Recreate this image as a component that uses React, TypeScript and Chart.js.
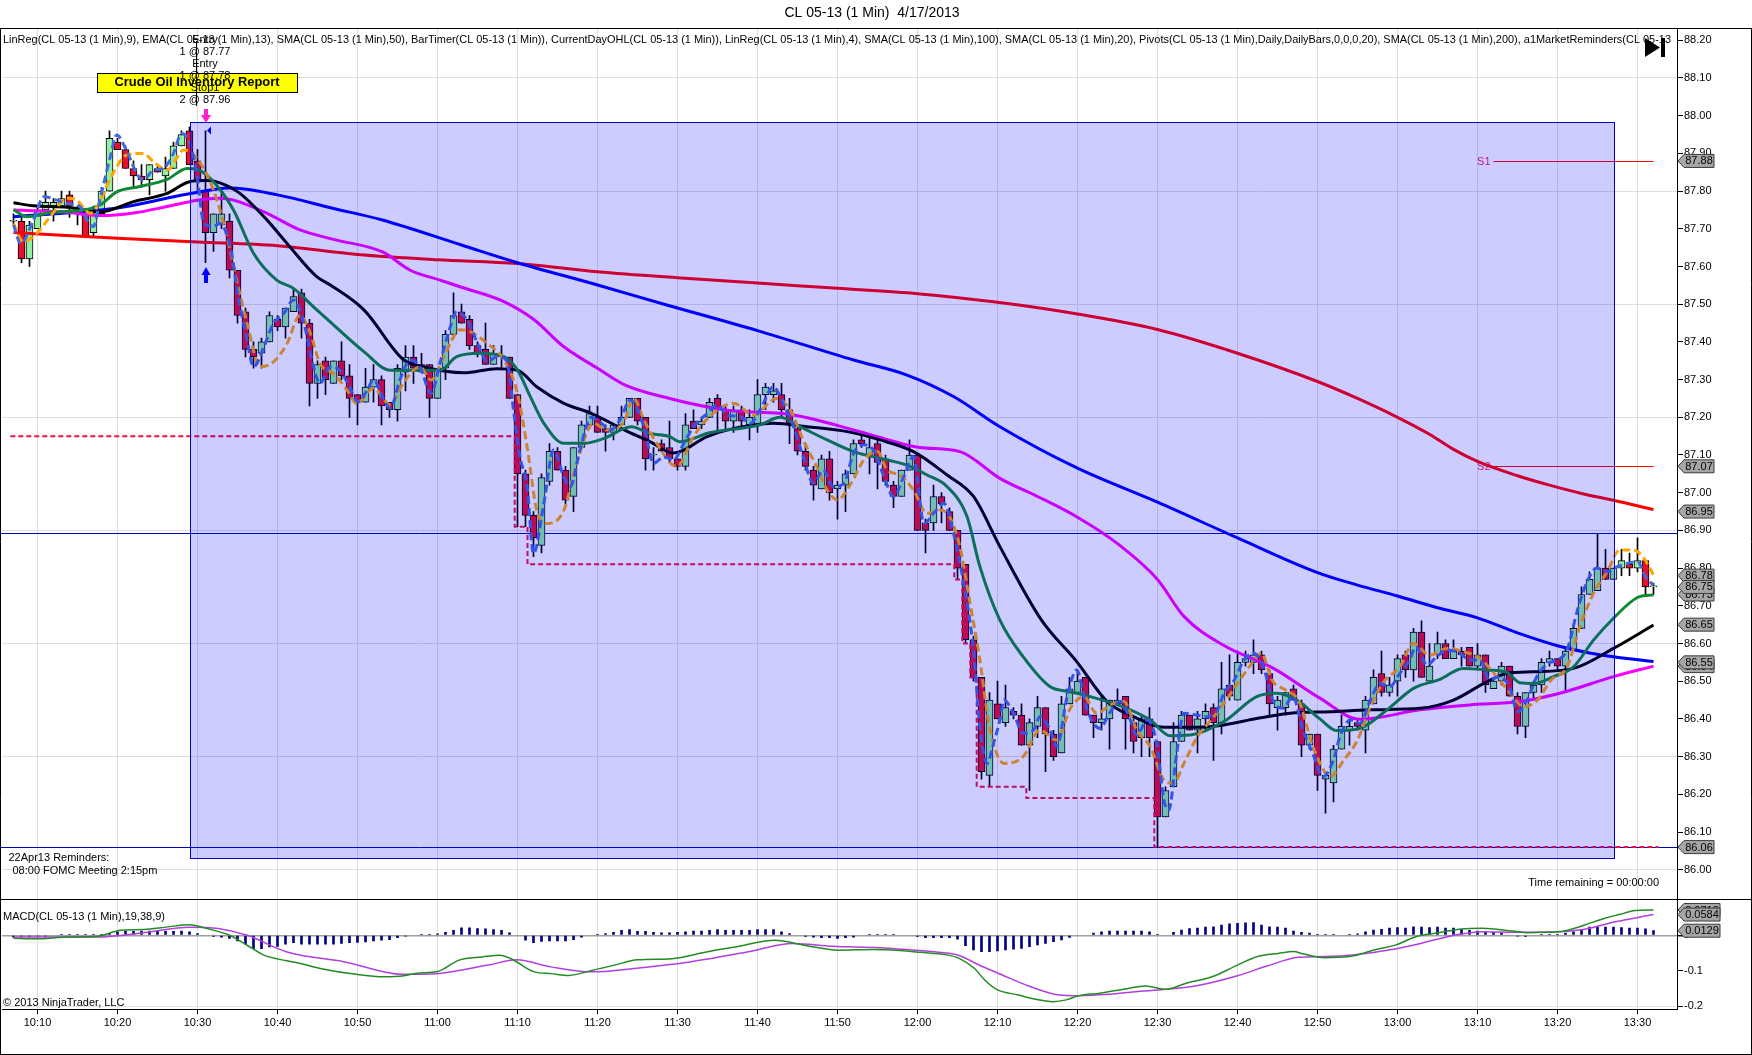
import React, { useEffect, useRef } from "react";
import { Chart, registerables } from "chart.js";

Chart.register(...registerables);

const W = 1752;
const H = 1055;
const FONT = '"Liberation Sans", Arial, sans-serif';

const TITLE = "CL 05-13 (1 Min)  4/17/2013";
const INDICATOR_LEGEND =
  "LinReg(CL 05-13 (1 Min),9), EMA(CL 05-13 (1 Min),13), SMA(CL 05-13 (1 Min),50), BarTimer(CL 05-13 (1 Min)), CurrentDayOHL(CL 05-13 (1 Min)), LinReg(CL 05-13 (1 Min),4), SMA(CL 05-13 (1 Min),100), SMA(CL 05-13 (1 Min),20), Pivots(CL 05-13 (1 Min),Daily,DailyBars,0,0,0,20), SMA(CL 05-13 (1 Min),200), a1MarketReminders(CL 05-13";
const MACD_LABEL = "MACD(CL 05-13 (1 Min),19,38,9)";
const COPYRIGHT = "\u00a9 2013 NinjaTrader, LLC";
const REMINDER_TITLE = "22Apr13 Reminders:";
const REMINDER_ITEM = "08:00 FOMC Meeting 2:15pm";
const TIME_REMAINING = "Time remaining = 00:00:00";
const TRADE_TEXT = ["Entry", "1 @ 87.77", "Entry", "1 @ 87.78", "Stop1", "2 @ 87.96"];
const EVENT_LABEL = "Crude Oil Inventory Report";

// x axis: minutes after 10:00
const FIRST_BAR_MINUTE = 7;
const timeTickMinutes = [10, 20, 30, 40, 50, 60, 70, 80, 90, 100, 110, 120, 130, 140, 150, 160, 170, 180, 190, 200, 210];
const timeTickLabels = ["10:10", "10:20", "10:30", "10:40", "10:50", "11:00", "11:10", "11:20", "11:30", "11:40", "11:50", "12:00", "12:10", "12:20", "12:30", "12:40", "12:50", "13:00", "13:10", "13:20", "13:30"];
const priceTicks = [86.0, 86.1, 86.2, 86.3, 86.4, 86.5, 86.6, 86.7, 86.8, 86.9, 87.0, 87.1, 87.2, 87.3, 87.4, 87.5, 87.6, 87.7, 87.8, 87.9, 88.0, 88.1, 88.2];
const macdTicks = [-0.2, -0.1, 0];

// 1-minute bars 10:07 .. 13:32
const opens = [
  87.72, 87.72, 87.62, 87.70, 87.75, 87.76, 87.76, 87.79, 87.75, 87.74,
  87.69, 87.74, 87.80, 87.93, 87.91, 87.86, 87.84, 87.83, 87.86, 87.84,
  87.86, 87.92, 87.96, 87.88, 87.80, 87.69, 87.71, 87.72, 87.59, 87.48,
  87.38, 87.37, 87.40, 87.46, 87.44, 87.48, 87.53, 87.45, 87.29, 87.35,
  87.29, 87.35, 87.31, 87.26, 87.24, 87.28, 87.30, 87.24, 87.22, 87.32,
  87.36, 87.32, 87.34, 87.25, 87.33, 87.42, 87.48, 87.46, 87.39, 87.38,
  87.34, 87.36, 87.36, 87.26, 87.05, 86.94, 86.86, 87.03, 87.11, 87.06,
  86.99, 87.12, 87.18, 87.20, 87.17, 87.16, 87.18, 87.20, 87.25, 87.20,
  87.10, 87.13, 87.12, 87.09, 87.07, 87.19, 87.18, 87.20, 87.25, 87.22,
  87.19, 87.22, 87.18, 87.18, 87.26, 87.26, 87.26, 87.22, 87.17, 87.11,
  87.06, 87.01, 87.09, 87.01, 87.02, 87.05, 87.14, 87.10, 87.13, 87.09,
  87.02, 86.99, 87.06, 87.10, 86.92, 86.92, 86.99, 86.95, 86.90, 86.81,
  86.61, 86.51, 86.25, 86.44, 86.39, 86.42, 86.41, 86.33, 86.38, 86.43,
  86.36, 86.31, 86.44, 86.47, 86.51, 86.41, 86.39, 86.40, 86.44, 86.46,
  86.39, 86.35, 86.40, 86.34, 86.14, 86.22, 86.34, 86.41, 86.37, 86.40,
  86.43, 86.39, 86.49, 86.45, 86.55, 86.55, 86.57, 86.52, 86.43, 86.43,
  86.48, 86.44, 86.33, 86.36, 86.24, 86.23, 86.32, 86.37, 86.39, 86.37,
  86.44, 86.52, 86.47, 86.50, 86.57, 86.53, 86.63, 86.50, 86.57, 86.60,
  86.56, 86.58, 86.59, 86.54, 86.57, 86.48, 86.50, 86.54, 86.46, 86.38,
  86.47, 86.49, 86.55, 86.56, 86.54, 86.58, 86.64, 86.73, 86.74, 86.80,
  86.77, 86.80, 86.81, 86.80, 86.82, 86.75,
];
const highs = [
  87.74, 87.73, 87.72, 87.76, 87.80, 87.78, 87.80, 87.80, 87.76, 87.75,
  87.76, 87.81, 87.96, 87.94, 87.92, 87.88, 87.87, 87.87, 87.87, 87.89,
  87.93, 87.96, 87.97, 87.91, 87.96, 87.74, 87.81, 87.74, 87.59, 87.49,
  87.40, 87.41, 87.48, 87.47, 87.49, 87.54, 87.54, 87.46, 87.35, 87.36,
  87.35, 87.40, 87.34, 87.26, 87.33, 87.34, 87.31, 87.24, 87.34, 87.39,
  87.39, 87.37, 87.34, 87.33, 87.43, 87.53, 87.50, 87.47, 87.40, 87.45,
  87.39, 87.39, 87.36, 87.26, 87.06, 86.95, 87.05, 87.13, 87.12, 87.07,
  87.12, 87.19, 87.23, 87.23, 87.18, 87.18, 87.23, 87.25, 87.25, 87.20,
  87.12, 87.14, 87.19, 87.09, 87.21, 87.22, 87.20, 87.25, 87.26, 87.23,
  87.23, 87.23, 87.22, 87.30, 87.29, 87.29, 87.29, 87.25, 87.18, 87.13,
  87.07, 87.10, 87.11, 87.03, 87.06, 87.14, 87.15, 87.15, 87.14, 87.10,
  87.03, 87.06, 87.14, 87.10, 86.93, 87.02, 87.00, 86.96, 86.90, 86.81,
  86.62, 86.51, 86.47, 86.50, 86.49, 86.43, 86.44, 86.40, 86.46, 86.43,
  86.37, 86.46, 86.51, 86.53, 86.51, 86.41, 86.46, 86.45, 86.48, 86.46,
  86.40, 86.41, 86.43, 86.34, 86.22, 86.39, 86.42, 86.41, 86.42, 86.44,
  86.44, 86.55, 86.57, 86.58, 86.58, 86.61, 86.58, 86.53, 86.46, 86.47,
  86.49, 86.45, 86.36, 86.36, 86.26, 86.33, 86.41, 86.40, 86.40, 86.46,
  86.53, 86.58, 86.51, 86.57, 86.58, 86.64, 86.66, 86.60, 86.63, 86.61,
  86.61, 86.59, 86.59, 86.60, 86.57, 86.51, 86.55, 86.54, 86.47, 86.47,
  86.50, 86.56, 86.58, 86.56, 86.59, 86.65, 86.75, 86.79, 86.89, 86.85,
  86.80, 86.85, 86.84, 86.88, 86.82, 86.76,
];
const lows = [
  87.71, 87.61, 87.60, 87.70, 87.74, 87.72, 87.76, 87.73, 87.71, 87.68,
  87.68, 87.74, 87.80, 87.91, 87.86, 87.81, 87.81, 87.79, 87.85, 87.80,
  87.86, 87.92, 87.87, 87.80, 87.61, 87.64, 87.70, 87.57, 87.45, 87.36,
  87.33, 87.33, 87.40, 87.43, 87.41, 87.48, 87.41, 87.23, 87.25, 87.26,
  87.29, 87.30, 87.20, 87.18, 87.24, 87.24, 87.18, 87.20, 87.19, 87.27,
  87.29, 87.32, 87.20, 87.25, 87.30, 87.41, 87.45, 87.38, 87.36, 87.34,
  87.34, 87.33, 87.25, 86.91, 86.91, 86.83, 86.84, 87.02, 87.06, 86.97,
  86.95, 87.12, 87.17, 87.16, 87.11, 87.14, 87.18, 87.20, 87.18, 87.06,
  87.06, 87.11, 87.08, 87.06, 87.06, 87.17, 87.17, 87.20, 87.16, 87.17,
  87.16, 87.17, 87.14, 87.16, 87.22, 87.24, 87.20, 87.13, 87.10, 87.06,
  86.98, 87.01, 86.98, 86.93, 86.95, 87.05, 87.12, 87.05, 87.01, 87.02,
  86.96, 86.99, 87.06, 86.90, 86.84, 86.90, 86.92, 86.90, 86.77, 86.60,
  86.50, 86.24, 86.22, 86.40, 86.38, 86.40, 86.33, 86.21, 86.35, 86.26,
  86.29, 86.31, 86.44, 86.47, 86.41, 86.35, 86.37, 86.32, 86.44, 86.32,
  86.31, 86.30, 86.30, 86.06, 86.14, 86.22, 86.34, 86.37, 86.31, 86.37,
  86.29, 86.36, 86.45, 86.45, 86.54, 86.52, 86.52, 86.41, 86.37, 86.41,
  86.45, 86.30, 86.32, 86.21, 86.15, 86.18, 86.32, 86.33, 86.37, 86.31,
  86.44, 86.46, 86.46, 86.46, 86.51, 86.50, 86.51, 86.50, 86.56, 86.56,
  86.56, 86.54, 86.54, 86.53, 86.47, 86.48, 86.49, 86.46, 86.36, 86.35,
  86.45, 86.47, 86.54, 86.53, 86.47, 86.58, 86.64, 86.73, 86.74, 86.77,
  86.77, 86.78, 86.78, 86.79, 86.73, 86.73,
];
const closes = [
  87.72, 87.62, 87.71, 87.75, 87.77, 87.77, 87.78, 87.76, 87.74, 87.68,
  87.74, 87.80, 87.94, 87.91, 87.86, 87.84, 87.83, 87.87, 87.85, 87.86,
  87.92, 87.95, 87.87, 87.83, 87.69, 87.74, 87.74, 87.59, 87.47, 87.38,
  87.36, 87.40, 87.47, 87.44, 87.49, 87.52, 87.45, 87.29, 87.34, 87.30,
  87.35, 87.31, 87.25, 87.24, 87.28, 87.30, 87.23, 87.22, 87.33, 87.36,
  87.33, 87.34, 87.25, 87.33, 87.42, 87.47, 87.45, 87.39, 87.37, 87.34,
  87.37, 87.36, 87.25, 87.05, 86.94, 86.88, 87.04, 87.11, 87.06, 86.98,
  87.12, 87.18, 87.21, 87.16, 87.16, 87.18, 87.20, 87.25, 87.19, 87.09,
  87.10, 87.11, 87.09, 87.07, 87.18, 87.17, 87.19, 87.24, 87.22, 87.19,
  87.22, 87.19, 87.20, 87.26, 87.28, 87.27, 87.22, 87.18, 87.11, 87.07,
  87.02, 87.09, 87.00, 87.02, 87.05, 87.13, 87.13, 87.12, 87.08, 87.03,
  86.99, 87.06, 87.10, 86.90, 86.90, 86.99, 86.97, 86.90, 86.80, 86.61,
  86.51, 86.26, 86.45, 86.40, 86.43, 86.41, 86.33, 86.39, 86.43, 86.36,
  86.30, 86.44, 86.48, 86.50, 86.41, 86.39, 86.40, 86.45, 86.45, 86.40,
  86.34, 86.40, 86.35, 86.14, 86.21, 86.34, 86.41, 86.37, 86.40, 86.42,
  86.39, 86.48, 86.46, 86.55, 86.56, 86.57, 86.53, 86.44, 86.45, 86.47,
  86.45, 86.33, 86.36, 86.25, 86.25, 86.32, 86.38, 86.38, 86.38, 86.45,
  86.51, 86.47, 86.49, 86.56, 86.53, 86.63, 86.51, 86.54, 86.60, 86.56,
  86.58, 86.57, 86.54, 86.57, 86.49, 86.50, 86.54, 86.46, 86.38, 86.47,
  86.49, 86.55, 86.56, 86.54, 86.58, 86.64, 86.73, 86.77, 86.80, 86.77,
  86.80, 86.82, 86.80, 86.82, 86.75, 86.75,
];

// indicator lines: [minute, value]
const linReg4: number[][] = [
  [7, 87.71], [7.9, 87.661], [9.5, 87.723], [10.8, 87.785], [12.4, 87.776], [13.7, 87.767], [15.3, 87.759], [16.2, 87.723], [17, 87.706], [17.8, 87.776],
  [19.1, 87.891], [19.9, 87.949], [21.2, 87.904], [22.4, 87.847], [23.2, 87.829], [24.5, 87.856], [25.7, 87.86], [27, 87.9], [28, 87.953], [28.9, 87.935],
  [29.9, 87.847], [30.8, 87.714], [32, 87.706], [32.8, 87.714], [34.1, 87.652], [35.1, 87.52], [36.2, 87.405], [37, 87.334], [38.3, 87.387], [39.5, 87.449],
  [40.8, 87.476], [42, 87.511], [43.3, 87.449], [44.5, 87.334], [45.3, 87.29], [46.6, 87.334], [47.8, 87.325], [49, 87.281], [50.1, 87.241], [51.2, 87.272],
  [52, 87.299], [53.3, 87.246], [54.1, 87.224], [55.3, 87.299], [56.6, 87.352], [57.8, 87.334], [59.2, 87.263], [60.3, 87.343], [61.6, 87.44], [62.4, 87.48],
  [63.7, 87.458], [65, 87.396], [66.2, 87.348], [67.5, 87.361], [68.7, 87.348], [69.5, 87.219], [70.3, 87.096], [71.2, 87.016], [72, 86.839], [73.3, 86.972],
  [74.5, 87.113], [75.8, 87.042], [76.6, 87.016], [77.8, 87.113], [79.2, 87.2], [80.3, 87.188], [81.6, 87.166], [82.8, 87.193], [84.1, 87.246], [85.8, 87.175],
  [87, 87.078], [88.3, 87.095], [89.5, 87.087], [90.8, 87.131], [92, 87.175], [93.7, 87.21], [95, 87.232], [96.2, 87.206], [97.8, 87.202], [99.1, 87.184],
  [100.3, 87.219], [102, 87.281], [103.2, 87.237], [104.5, 87.175], [105.7, 87.096], [107, 87.025], [108.2, 87.06], [109.5, 87.016], [110.8, 87.025], [112, 87.104],
  [113.3, 87.127], [114.5, 87.113], [115.8, 87.043], [117, 86.99], [118.3, 87.043], [119.5, 87.096], [120.8, 86.919], [122, 86.945], [123.3, 86.972], [124.5, 86.892],
  [125.7, 86.768], [127, 86.583], [127.8, 86.379], [128.7, 86.282], [129.5, 86.335], [130.3, 86.397], [130.8, 86.45], [132, 86.415], [133.2, 86.362], [134.5, 86.37],
  [135.3, 86.406], [136.6, 86.37], [137.4, 86.326], [138.7, 86.459], [139.9, 86.53], [141.2, 86.424], [142.8, 86.375], [144, 86.415], [145.3, 86.446], [146.6, 86.397],
  [147.4, 86.357], [148.7, 86.397], [149.9, 86.335], [150.8, 86.185], [151.4, 86.158], [152.4, 86.309], [153.3, 86.415], [155, 86.41], [156.2, 86.406], [157.5, 86.424],
  [158.3, 86.468], [159.6, 86.503], [160.8, 86.556], [162, 86.574], [163.2, 86.539], [164.5, 86.446], [165.7, 86.428], [166.9, 86.459], [168.2, 86.37], [169.4, 86.309],
  [170.7, 86.247], [172, 86.291], [172.8, 86.353], [174.1, 86.397], [175.3, 86.388], [176.6, 86.45], [177.8, 86.494], [179, 86.485], [180.3, 86.521], [181.5, 86.556],
  [182.3, 86.591], [183.7, 86.543], [184.9, 86.565], [186.2, 86.583], [187.8, 86.574], [189, 86.556], [190.3, 86.556], [191.5, 86.503], [192.7, 86.512], [194, 86.485],
  [195, 86.419], [196.2, 86.45], [197.5, 86.516], [198.8, 86.547], [200, 86.556], [201.2, 86.583], [202.5, 86.689], [203.7, 86.764], [204.9, 86.8], [206.2, 86.79],
  [207.4, 86.803], [208.7, 86.812], [210, 86.817], [211, 86.777], [212, 86.755],
];
const linReg9: number[][] = [
  [7, 87.714], [8.2, 87.666], [9.9, 87.688], [11.6, 87.732], [13.7, 87.781], [14.9, 87.776], [16.6, 87.741], [17.8, 87.772], [19.1, 87.834], [21.2, 87.896],
  [23.2, 87.9], [24.5, 87.878], [26.2, 87.856], [28.3, 87.909], [29.9, 87.887], [32, 87.803], [33.7, 87.679], [34.9, 87.564], [36.2, 87.449], [37.8, 87.334],
  [39.5, 87.347], [41.2, 87.396], [42.8, 87.47], [44.1, 87.423], [45.3, 87.343], [47, 87.316], [48.7, 87.272], [49.9, 87.237], [52, 87.277], [54.1, 87.233],
  [55.7, 87.29], [57.8, 87.334], [59.2, 87.299], [60.8, 87.361], [62.8, 87.432], [64.1, 87.427], [66.2, 87.396], [68.3, 87.352], [70, 87.263], [71.2, 87.122],
  [72.4, 86.954], [73.7, 86.918], [75.8, 86.954], [77.4, 87.078], [79.5, 87.184], [81.2, 87.166], [83.3, 87.188], [84.5, 87.25], [85.8, 87.193], [87.4, 87.131],
  [89.9, 87.069], [92, 87.149], [94, 87.202], [97, 87.237], [99.5, 87.206], [102.4, 87.25], [104.1, 87.219], [105.7, 87.14], [107.4, 87.069], [108.7, 87.007],
  [110, 86.981], [111.7, 87.025], [113.3, 87.087], [115, 87.109], [116.2, 87.06], [117.8, 87.047], [119.5, 87.007], [121.2, 86.945], [122.8, 86.954], [124, 86.936],
  [125.3, 86.857], [126.5, 86.715], [127.8, 86.556], [129, 86.379], [130.8, 86.282], [133.2, 86.3], [135.3, 86.37], [137.4, 86.344], [139.1, 86.428], [140.8, 86.459],
  [142.4, 86.415], [144.1, 86.437], [145.8, 86.446], [147.4, 86.37], [149.1, 86.326], [150.8, 86.238], [152, 86.229], [153.3, 86.282], [155, 86.353], [156.7, 86.397],
  [158.3, 86.441], [160, 86.494], [161.8, 86.547], [163, 86.574], [164.3, 86.503], [166, 86.477], [167.7, 86.446], [169.3, 86.335], [171, 86.256], [171.6, 86.247],
  [173.3, 86.291], [175, 86.344], [176.6, 86.432], [178.3, 86.499], [180.3, 86.538], [182, 86.6], [184, 86.569], [186.2, 86.587], [188.3, 86.578], [190.3, 86.561],
  [192.4, 86.512], [194.1, 86.468], [195.8, 86.432], [197.5, 86.45], [199.2, 86.503], [201.2, 86.538], [202.8, 86.645], [204.5, 86.733], [206.2, 86.79], [207.8, 86.848],
  [209.5, 86.848], [210.8, 86.826], [212, 86.782],
];
const ema13: number[][] = [
  [7, 87.751], [8.7, 87.732], [11.6, 87.743], [15.8, 87.75], [17.8, 87.763], [19.9, 87.798], [22.8, 87.812], [26.2, 87.831], [28.7, 87.86], [29.9, 87.858],
  [32, 87.825], [34.5, 87.75], [37, 87.635], [39.9, 87.564], [42, 87.542], [44.5, 87.493], [47, 87.445], [50.8, 87.374], [54.1, 87.325], [58.2, 87.325],
  [60.3, 87.325], [62.4, 87.361], [65.3, 87.37], [68.3, 87.361], [70, 87.325], [71.6, 87.255], [73.3, 87.184], [75.8, 87.131], [78.3, 87.131], [80.8, 87.144],
  [84.2, 87.175], [86.6, 87.157], [89, 87.149], [90.3, 87.135], [94, 87.159], [100.3, 87.18], [102.8, 87.2], [105.3, 87.175], [108.7, 87.14], [112, 87.109],
  [116.2, 87.087], [118.7, 87.073], [121.2, 87.047], [123.7, 87.016], [126.2, 86.936], [127.8, 86.804], [130.3, 86.662], [133.2, 86.565], [136.6, 86.485], [139.1, 86.472],
  [141.6, 86.459], [145.7, 86.432], [149.1, 86.397], [151.6, 86.355], [154.1, 86.357], [158.3, 86.393], [162.4, 86.459], [164.9, 86.468], [167.4, 86.45], [170.3, 86.4],
  [172.4, 86.369], [175.3, 86.375], [178.7, 86.424], [182, 86.481], [185.3, 86.505], [188.2, 86.534], [191.2, 86.53], [193.7, 86.523], [195.3, 86.496], [197, 86.494],
  [199.5, 86.512], [202, 86.538], [204.5, 86.609], [207, 86.667], [210, 86.722], [212, 86.729],
];
const sma20: number[][] = [
  [7, 87.769], [9.5, 87.761], [13.7, 87.757], [17.8, 87.745], [22, 87.772], [26.2, 87.794], [29, 87.825], [31.2, 87.828], [32.8, 87.822], [35.3, 87.794],
  [38.7, 87.723], [41.2, 87.661], [44.9, 87.573], [46.6, 87.551], [50.8, 87.485], [55.8, 87.352], [58.2, 87.334], [63.3, 87.318], [67.4, 87.329], [70, 87.325],
  [72.4, 87.281], [75.8, 87.237], [79.3, 87.21], [83.4, 87.166], [86.6, 87.135], [89.5, 87.105], [93.7, 87.149], [96.2, 87.166], [102, 87.184], [106.2, 87.175],
  [111.2, 87.162], [115.3, 87.14], [119.5, 87.109], [123.7, 87.047], [127, 86.99], [130.3, 86.857], [135.5, 86.662], [139.9, 86.552], [143.7, 86.446], [147, 86.406],
  [150.8, 86.378], [155, 86.378], [158.3, 86.384], [162.4, 86.401], [166.6, 86.415], [171.6, 86.419], [176.6, 86.424], [182.8, 86.428], [187, 86.45], [191.2, 86.499],
  [193.7, 86.521], [197, 86.525], [202, 86.534], [207, 86.587], [212, 86.649],
];
const sma50: number[][] = [
  [7, 87.75], [9.5, 87.748], [13, 87.745], [17.8, 87.735], [22, 87.742], [26.2, 87.759], [30, 87.776], [32.8, 87.781], [34.5, 87.776], [38.7, 87.741],
  [42.8, 87.697], [47, 87.672], [53.2, 87.638], [56.6, 87.59], [60.3, 87.564], [63, 87.545], [68.3, 87.507], [72, 87.46], [75.8, 87.387], [80, 87.33],
  [83.4, 87.286], [89, 87.25], [96.2, 87.219], [104.5, 87.206], [112.8, 87.162], [120.3, 87.12], [125.3, 87.109], [130.3, 87.038], [135, 86.99], [140, 86.935],
  [145, 86.865], [150, 86.77], [153.3, 86.672], [158.2, 86.596], [164.5, 86.534], [170.3, 86.455], [175.3, 86.399], [182.8, 86.424], [189, 86.437], [195.3, 86.446],
  [200.3, 86.468], [207, 86.512], [212, 86.54],
];
const sma100: number[][] = [
  [7, 87.732], [20, 87.755], [29, 87.793], [34, 87.808], [40, 87.79], [47, 87.754], [53, 87.724], [63, 87.657], [70, 87.61], [80, 87.551],
  [88, 87.502], [100, 87.43], [112, 87.352], [118.7, 87.312], [124.5, 87.255], [130.3, 87.175], [140, 87.065], [150, 86.975], [160, 86.88], [170, 86.788],
  [175, 86.755], [180, 86.726], [185, 86.695], [190, 86.668], [195, 86.628], [200, 86.594], [204, 86.575], [207, 86.565], [212, 86.552],
];
const sma200: number[][] = [
  [7, 87.69], [20, 87.675], [30, 87.665], [40, 87.655], [50, 87.632], [60, 87.618], [70, 87.608], [80, 87.586], [90, 87.57], [100, 87.556],
  [110, 87.542], [120, 87.528], [130, 87.505], [140, 87.474], [150, 87.433], [160, 87.37], [170, 87.295], [175, 87.25], [180, 87.2], [184, 87.155],
  [187, 87.115], [190, 87.083], [195, 87.045], [199, 87.02], [203, 86.998], [207, 86.98], [212, 86.955],
];
// CurrentDayOHL low (stepped: each level holds until the next point)
const dayLow: number[][] = [
  [6.6, 87.15], [69.65, 86.91], [71.25, 86.81], [124.6, 86.77], [125.6, 86.6], [126.6, 86.51], [127.4, 86.22], [133.6, 86.19], [149.6, 86.06], [212.6, 86.06],
];

// MACD(19,38,9)
const macdLine: number[][] = [
  [7, -0.0085], [9.6, -0.01], [13.9, -0.005], [17.5, -0.003], [20.4, 0.014], [23.3, 0.016], [26.1, 0.023], [29, 0.03], [31.2, 0.019], [34, 0],
  [36.2, -0.028], [38.3, -0.056], [41.2, -0.072], [42.6, -0.078], [45.5, -0.094], [49.8, -0.11], [53.4, -0.117], [55.6, -0.115], [57.7, -0.106], [59.9, -0.103],
  [62.7, -0.07], [65.6, -0.061], [67.8, -0.056], [69.2, -0.066], [72.1, -0.103], [74.2, -0.108], [76.4, -0.113], [79.3, -0.099], [82.1, -0.084], [85, -0.069],
  [89.3, -0.066], [93.6, -0.047], [97.2, -0.033], [102.2, -0.014], [105.8, -0.028], [110.1, -0.042], [114.4, -0.04], [117.8, -0.043], [120.4, -0.048], [123.6, -0.055],
  [125.2, -0.065], [127.1, -0.093], [128.4, -0.126], [130, -0.154], [132.6, -0.168], [134.5, -0.179], [137, -0.187], [138.6, -0.182], [140.2, -0.17], [142.8, -0.163],
  [146, -0.151], [148.5, -0.143], [151.1, -0.152], [153.6, -0.135], [156.8, -0.117], [160, -0.084], [162.5, -0.06], [165.1, -0.051], [167, -0.046], [168.3, -0.053],
  [170.8, -0.063], [174, -0.06], [177.2, -0.041], [179.8, -0.027], [182.3, -0.004], [185.5, 0.0085], [188, 0.018], [190.6, 0.02], [194.4, 0.012], [196.3, 0.0075],
  [198.3, 0.0085], [200.8, 0.012], [203.4, 0.029], [205.9, 0.048], [207.8, 0.059], [209.7, 0.07], [212, 0.0713],
];
const macdSignal: number[][] = [
  [7, -0.005], [17.5, -0.005], [23.3, 0.007], [29, 0.023], [32.6, 0.019], [36.2, 0], [41.2, -0.047], [48.4, -0.075], [55.6, -0.11], [59.9, -0.108],
  [66.3, -0.084], [69.9, -0.069], [74.2, -0.089], [79.3, -0.103], [84.3, -0.094], [91.5, -0.075], [98.7, -0.047], [104.4, -0.023], [109.4, -0.031], [115.3, -0.035],
  [118, -0.039], [121.7, -0.046], [124.9, -0.055], [128.1, -0.088], [130.6, -0.112], [133.8, -0.142], [137.7, -0.168], [140.2, -0.17], [144, -0.166], [147.2, -0.159],
  [151.1, -0.152], [154.9, -0.142], [160, -0.114], [163.8, -0.086], [167.6, -0.062], [170.8, -0.06], [174.7, -0.055], [179.1, -0.041], [182.9, -0.023], [186.8, -0.001],
  [190.6, 0.0103], [195.1, 0.0085], [198.9, 0.0085], [203.4, 0.017], [207.2, 0.038], [212, 0.0584],
];
const macdHist = [
  -0.005, -0.003, -0.003, -0.002, -0.003, 0, 0.001, 0.002, 0.002, 0.001,
  0.001, 0.002, 0.005, 0.010, 0.011, 0.011, 0.012, 0.012, 0.011, 0.011,
  0.011, 0.012, 0.010, 0.005, 0, -0.003, -0.005, -0.009, -0.016, -0.025,
  -0.038, -0.038, -0.033, -0.031, -0.025, -0.021, -0.025, -0.025, -0.025, -0.025,
  -0.025, -0.023, -0.021, -0.020, -0.019, -0.016, -0.014, -0.012, -0.007, -0.002,
  0, 0.002, 0.002, 0.004, 0.008, 0.014, 0.021, 0.021, 0.019, 0.018,
  0.016, 0.014, 0.007, 0, -0.014, -0.021, -0.017, -0.016, -0.016, -0.016,
  -0.012, -0.005, 0, 0.003, 0.005, 0.008, 0.014, 0.016, 0.011, 0.011,
  0.008, 0.007, 0.007, 0.008, 0.010, 0.012, 0.012, 0.014, 0.016, 0.014,
  0.014, 0.014, 0.014, 0.016, 0.016, 0.016, 0.010, 0.005, 0, -0.003,
  -0.005, -0.007, -0.007, -0.009, -0.007, -0.005, 0, 0.001, 0.001, 0.001,
  0.001, 0, 0, -0.003, -0.007, -0.007, -0.007, -0.007, -0.011, -0.029,
  -0.041, -0.046, -0.046, -0.044, -0.041, -0.039, -0.037, -0.032, -0.027, -0.023,
  -0.018, -0.013, -0.006, 0, 0, 0.006, 0.010, 0.012, 0.012, 0.012,
  0.012, 0.012, 0.010, 0.003, 0, 0.008, 0.015, 0.019, 0.020, 0.023,
  0.024, 0.029, 0.032, 0.034, 0.035, 0.036, 0.029, 0.024, 0.023, 0.020,
  0.012, 0.008, 0.006, 0.002, 0.001, 0.001, 0, 0.002, 0.004, 0.010,
  0.015, 0.017, 0.020, 0.022, 0.020, 0.024, 0.023, 0.022, 0.023, 0.020,
  0.020, 0.017, 0.014, 0.012, 0.010, 0.008, 0.006, 0, -0.002, -0.003,
  0, 0.002, 0.002, 0.003, 0.006, 0.010, 0.017, 0.023, 0.024, 0.023,
  0.023, 0.022, 0.020, 0.020, 0.018, 0.013,
];

// drawing objects on the chart
const shadedZone = { fromMinute: 29.02, toMinute: 207.0, top: 87.982, bottom: 86.031 };
const userHLines = [86.892, 86.061];
const pivotLevels: [string, number][] = [["S1", 87.88], ["S2", 87.07]];
const pivotSpan = [192, 212];
const priceTags = [86.73, 86.78, 86.75, 87.88, 87.07, 86.95, 86.54, 86.55, 86.65, 86.06];
const macdTags = [0.0713, 0.0584, 0.0129];

const UP = "#92eea0";
const DOWN = "#e8102a";

const toXY = (a: number[][]) => a.map(([x, y]) => ({ x, y }));

function lineDs(data: number[][], color: string, width: number, dash: number[] = [], yAxisID = "y", stepped: any = false) {
  return {
    type: "line",
    data: toXY(data),
    borderColor: color,
    borderWidth: width,
    borderDash: dash,
    borderCapStyle: "butt",
    borderJoinStyle: "round",
    pointRadius: 0,
    fill: false,
    stepped,
    cubicInterpolationMode: stepped ? "default" : "monotone",
    yAxisID,
    xAxisID: "x",
  };
}

function drawTag(ctx: CanvasRenderingContext2D, axisX: number, py: number, text: string, w: number) {
  const h = 13;
  ctx.beginPath();
  ctx.moveTo(axisX + 1, py);
  ctx.lineTo(axisX + 7, py - h / 2);
  ctx.lineTo(axisX + 7 + w, py - h / 2);
  ctx.lineTo(axisX + 7 + w, py + h / 2);
  ctx.lineTo(axisX + 7, py + h / 2);
  ctx.closePath();
  ctx.fillStyle = "#a6a6a6";
  ctx.fill();
  ctx.strokeStyle = "#3a3a3a";
  ctx.lineWidth = 1;
  ctx.stroke();
  ctx.fillStyle = "#000";
  ctx.font = `11px ${FONT}`;
  ctx.textAlign = "center";
  ctx.textBaseline = "middle";
  ctx.fillText(text, axisX + 7 + w / 2, py + 0.5);
}

const ninjaPlugin = {
  id: "ninjaDecor",
  beforeDraw(chart: any) {
    const ctx = chart.ctx;
    ctx.save();
    ctx.fillStyle = "#fff";
    ctx.fillRect(0, 0, W, H);
    ctx.restore();
  },
  beforeDatasetsDraw(chart: any) {
    const { ctx, chartArea, scales } = chart;
    const y = scales.y;
    const x = scales.x;
    ctx.save();
    for (const [name, v] of pivotLevels) {
      const py = Math.round(y.getPixelForValue(v)) + 0.5;
      const x0 = x.getPixelForValue(pivotSpan[0]);
      const x1 = x.getPixelForValue(pivotSpan[1]);
      ctx.strokeStyle = "#ff0000";
      ctx.lineWidth = 1;
      ctx.beginPath();
      ctx.moveTo(x0, py);
      ctx.lineTo(x1, py);
      ctx.stroke();
      ctx.fillStyle = "#f0206a";
      ctx.font = `11px ${FONT}`;
      ctx.textAlign = "right";
      ctx.textBaseline = "middle";
      ctx.fillText(name, x0 - 3, py);
    }
    ctx.strokeStyle = "#0000c0";
    ctx.lineWidth = 1;
    for (const v of userHLines) {
      const py = Math.round(y.getPixelForValue(v)) + 0.5;
      ctx.beginPath();
      ctx.moveTo(0, py);
      ctx.lineTo(chartArea.right, py);
      ctx.stroke();
    }
    ctx.restore();
  },
  afterDatasetsDraw(chart: any) {
    const { ctx, scales } = chart;
    const x = scales.x;
    const y = scales.y;
    const x0 = Math.round(x.getPixelForValue(shadedZone.fromMinute)) + 0.5;
    const x1 = Math.round(x.getPixelForValue(shadedZone.toMinute)) + 0.5;
    const y0 = Math.round(y.getPixelForValue(shadedZone.top)) + 0.5;
    const y1 = Math.round(y.getPixelForValue(shadedZone.bottom)) + 0.5;
    ctx.save();
    ctx.fillStyle = "rgba(0,0,255,0.2)";
    ctx.fillRect(x0, y0, x1 - x0, y1 - y0);
    ctx.strokeStyle = "#0000cc";
    ctx.lineWidth = 1;
    ctx.strokeRect(x0, y0, x1 - x0, y1 - y0);
    ctx.restore();
  },
  afterDraw(chart: any) {
    const { ctx, chartArea, scales } = chart;
    const y = scales.y;
    const y2 = scales.y2;
    const axisX = chartArea.right;
    ctx.save();

    const sep = Math.round(y.bottom) + 0.5;
    ctx.strokeStyle = "#000";
    ctx.lineWidth = 1;
    ctx.beginPath();
    ctx.moveTo(0, 28.5); ctx.lineTo(W, 28.5);
    ctx.moveTo(0, sep); ctx.lineTo(W, sep);
    ctx.moveTo(0.5, 28); ctx.lineTo(0.5, H);
    ctx.moveTo(W - 0.5, 28); ctx.lineTo(W - 0.5, H);
    ctx.moveTo(0, H - 0.5); ctx.lineTo(W, H - 0.5);
    ctx.moveTo(Math.round(axisX) + 0.5, 28); ctx.lineTo(Math.round(axisX) + 0.5, chartArea.bottom);
    ctx.stroke();

    ctx.fillStyle = "#000";
    ctx.font = `14px ${FONT}`;
    ctx.textAlign = "center";
    ctx.textBaseline = "middle";
    ctx.fillText(TITLE, 872, 13);

    ctx.font = `11px ${FONT}`;
    ctx.textAlign = "left";
    const lw = ctx.measureText(INDICATOR_LEGEND).width;
    ctx.save();
    ctx.translate(3, 40);
    ctx.scale(1668 / lw, 1);
    ctx.fillText(INDICATOR_LEGEND, 0, 0);
    ctx.restore();

    ctx.fillStyle = "#000";
    ctx.beginPath();
    ctx.moveTo(1645, 38); ctx.lineTo(1660, 47.5); ctx.lineTo(1645, 57); ctx.closePath();
    ctx.fill();
    ctx.fillRect(1661, 38, 4, 19);

    ctx.fillStyle = "#ffff00";
    ctx.fillRect(97, 73, 200, 19);
    ctx.strokeStyle = "#000";
    ctx.strokeRect(97.5, 73.5, 200, 19);
    ctx.fillStyle = "#000";
    ctx.font = `bold 12px ${FONT}`;
    ctx.textAlign = "center";
    const ew = ctx.measureText(EVENT_LABEL).width;
    ctx.save();
    ctx.translate(197, 83);
    ctx.scale(165 / ew, 1);
    ctx.fillText(EVENT_LABEL, 0, 0);
    ctx.restore();

    ctx.strokeStyle = "#000";
    ctx.beginPath();
    ctx.moveTo(196.5, 41); ctx.lineTo(196.5, 106);
    ctx.stroke();
    ctx.font = `11px ${FONT}`;
    ctx.textAlign = "center";
    const ty = [40, 51.5, 63.5, 76, 88, 100];
    TRADE_TEXT.forEach((t, i) => ctx.fillText(t, 205, ty[i]));
    ctx.fillStyle = "#ff20d0";
    ctx.fillRect(204, 109, 4, 7);
    ctx.beginPath();
    ctx.moveTo(201, 115); ctx.lineTo(211, 115); ctx.lineTo(206, 123); ctx.closePath();
    ctx.fill();
    ctx.fillStyle = "#0000ff";
    ctx.beginPath();
    ctx.moveTo(207, 130.5); ctx.lineTo(211, 126.5); ctx.lineTo(211, 134.5); ctx.closePath();
    ctx.fill();
    ctx.beginPath();
    ctx.moveTo(201.5, 275); ctx.lineTo(210.5, 275); ctx.lineTo(206, 267); ctx.closePath();
    ctx.fill();
    ctx.fillRect(204, 274, 4, 9);

    ctx.fillStyle = "#000";
    ctx.font = `11px ${FONT}`;
    ctx.textAlign = "left";
    ctx.fillText(REMINDER_TITLE, 8.5, 858);
    ctx.fillText(REMINDER_ITEM, 12.5, 870.5);
    ctx.fillText(MACD_LABEL, 3, 917);
    ctx.fillText(COPYRIGHT, 3, 1002.5);
    ctx.textAlign = "right";
    ctx.fillText(TIME_REMAINING, 1659, 883);

    for (const v of priceTags) drawTag(ctx, axisX, y.getPixelForValue(v), v.toFixed(2), 30);
    for (const v of macdTags) drawTag(ctx, axisX, y2.getPixelForValue(v), v.toFixed(4), 36);

    ctx.restore();
  },
};

export default function App() {
  const ref = useRef<HTMLCanvasElement | null>(null);

  useEffect(() => {
    document.body.style.margin = "0";
    const canvas = ref.current;
    if (!canvas) return;

    const bodies = opens.map((o, i) => ({ x: FIRST_BAR_MINUTE + i, y: [o, closes[i]] }));
    const bodyColors = opens.map((o, i) => (closes[i] >= o ? UP : DOWN));
    const wicks = lows.map((l, i) => ({ x: FIRST_BAR_MINUTE + i, y: [l, highs[i]] }));
    const hist = macdHist.map((v, i) => ({ x: FIRST_BAR_MINUTE + i, y: v === 0 ? null : v }));

    const datasets: any[] = [
      lineDs(linReg4, "#4169e1", 3, [8, 4]),
      lineDs(linReg9, "#ffa500", 3, [8, 4]),
      lineDs(ema13, "#0f8a32", 3),
      lineDs(sma20, "#000000", 3),
      lineDs(sma50, "#ff00ff", 3),
      lineDs(sma100, "#0000ff", 3),
      lineDs(sma200, "#ff0000", 3),
      lineDs(dayLow, "#f01040", 2, [5, 3], "y", "before"),
      {
        type: "bar",
        data: bodies,
        backgroundColor: bodyColors,
        borderColor: "#000",
        borderWidth: 1,
        borderSkipped: false,
        grouped: false,
        barThickness: 7,
        maxBarThickness: 7,
        minBarLength: 1,
        yAxisID: "y",
        xAxisID: "x",
      },
      {
        type: "bar",
        data: wicks,
        backgroundColor: "#000",
        borderWidth: 0,
        grouped: false,
        barThickness: 1,
        maxBarThickness: 1,
        yAxisID: "y",
        xAxisID: "x",
      },
      lineDs(macdLine, "#228b22", 1.5, [], "y2"),
      lineDs(macdSignal, "#b040e0", 1.5, [], "y2"),
      {
        type: "bar",
        data: hist,
        backgroundColor: "#000080",
        borderWidth: 0,
        grouped: false,
        barThickness: 2,
        maxBarThickness: 2,
        minBarLength: 1,
        yAxisID: "y2",
        xAxisID: "x",
      },
    ];

    const chart = new Chart(canvas, {
      type: "line",
      data: { datasets },
      plugins: [ninjaPlugin],
      options: {
        responsive: false,
        animation: false,
        devicePixelRatio: 1,
        events: [],
        layout: { padding: { top: 28, left: 2, right: 0, bottom: 0 } },
        plugins: { legend: { display: false }, tooltip: { enabled: false }, title: { display: false } },
        scales: {
          x: {
            type: "linear",
            position: "bottom",
            offset: false,
            min: 5.5625,
            max: 214.9375,
            afterBuildTicks: (s: any) => {
              s.ticks = timeTickMinutes.map((v) => ({ value: v }));
            },
            afterFit: (s: any) => {
              s.height = 45.7;
            },
            ticks: {
              autoSkip: false,
              maxRotation: 0,
              padding: 2,
              color: "#000",
              font: { family: FONT, size: 11 },
              callback: (v: any) => {
                const i = timeTickMinutes.indexOf(Math.round(Number(v)));
                return i >= 0 ? timeTickLabels[i] : "";
              },
            },
            grid: { offset: false, color: "#dedede", lineWidth: 1, tickColor: "#000", tickLength: 5 },
            border: { display: true, color: "#000", width: 1 },
          },
          y: {
            type: "linear",
            position: "right",
            stack: "panels",
            stackWeight: 871.3,
            min: 85.9215,
            max: 88.2326,
            beginAtZero: false,
            afterBuildTicks: (s: any) => {
              s.ticks = priceTicks.map((v) => ({ value: v }));
            },
            afterFit: (s: any) => {
              s.width = 75;
            },
            ticks: {
              padding: 1,
              color: "#000",
              font: { family: FONT, size: 11 },
              callback: (v: any) => Number(v).toFixed(2),
            },
            grid: {
              color: (c: any) => (Math.round(c.tick.value * 10) % 3 === 2 ? "#dedede" : "rgba(0,0,0,0)"),
              tickColor: "#000",
              tickLength: 6,
            },
            border: { display: true, color: "#000", width: 1 },
          },
          y2: {
            type: "linear",
            position: "right",
            stack: "panels",
            stackWeight: 110,
            min: -0.2085,
            max: 0.1014,
            afterBuildTicks: (s: any) => {
              s.ticks = macdTicks.map((v) => ({ value: v }));
            },
            afterFit: (s: any) => {
              s.width = 75;
            },
            ticks: {
              padding: 1,
              color: "#000",
              font: { family: FONT, size: 11 },
              callback: (v: any) => (Number(v) === 0 ? "0" : Number(v).toFixed(1)),
            },
            grid: {
              color: (c: any) => (c.tick.value === 0 ? "#a0a0a0" : c.tick.value < -0.15 ? "#e4e4e4" : "rgba(0,0,0,0)"),
              lineWidth: (c: any) => (c.tick.value === 0 ? 1.5 : 1),
              tickColor: "#000",
              tickLength: 6,
            },
            border: { display: true, color: "#000", width: 1 },
          },
        },
      } as any,
    } as any);

    return () => chart.destroy();
  }, []);

  return (
    <div style={{ position: "relative", width: W, height: H }}>
      <canvas ref={ref} width={W} height={H} style={{ display: "block", width: W, height: H }} />
    </div>
  );
}
